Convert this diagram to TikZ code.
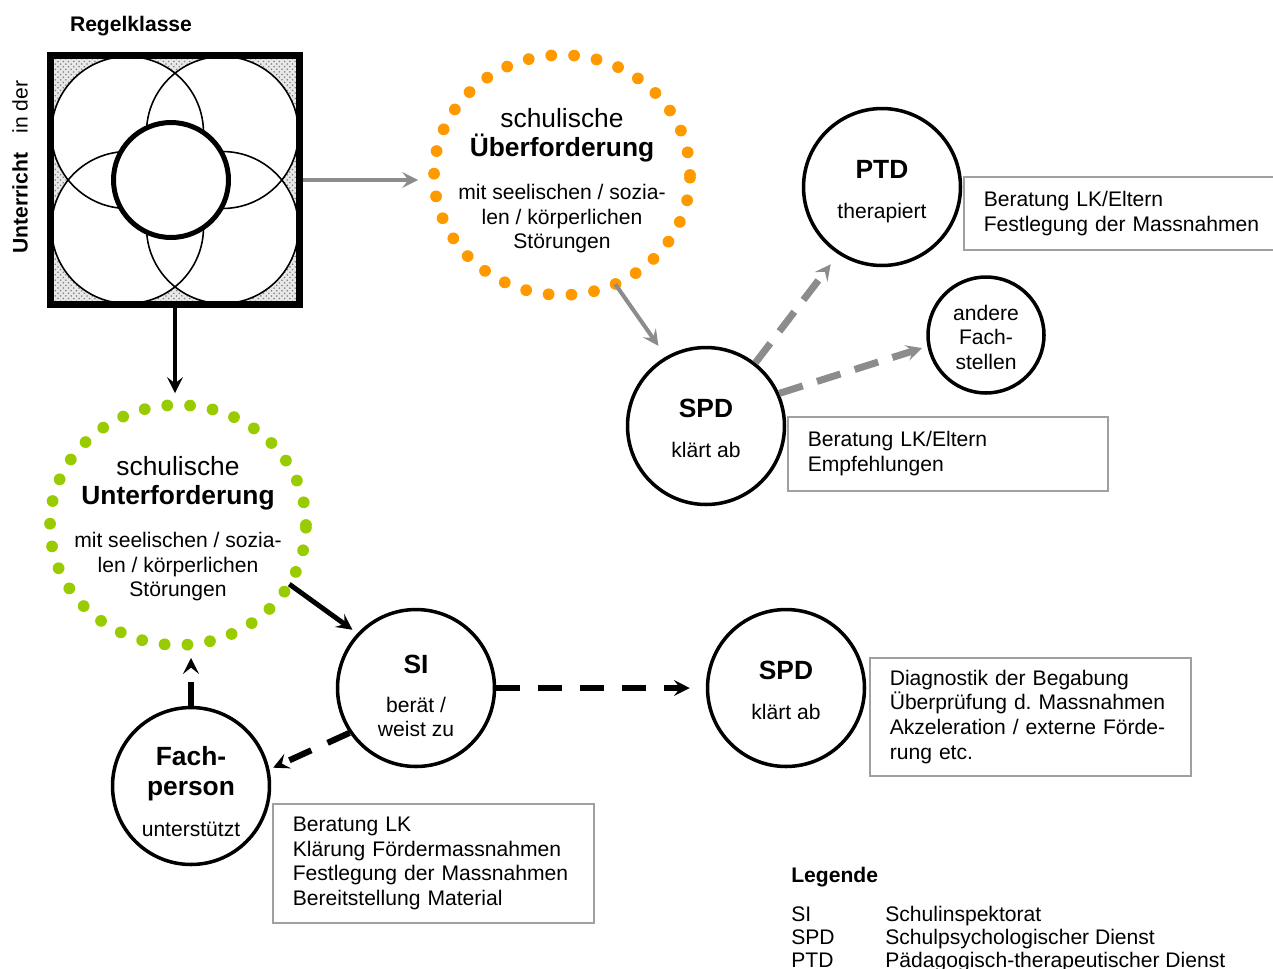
\documentclass[tikz,border=0pt]{standalone}
\usepackage{fontspec}
\setmainfont{Liberation Sans}
\usetikzlibrary{arrows.meta,shapes.geometric,patterns}
\frenchspacing
\definecolor{ringorange}{RGB}{255,153,0}
\definecolor{ringgreen}{RGB}{153,204,0}
\definecolor{arrgray}{RGB}{140,140,140}
\definecolor{boxgray}{RGB}{160,160,160}
\newcommand{\txt}{\fontsize{12}{13.95}\selectfont}
\newcommand{\ttl}{\fontsize{15}{18}\selectfont}
\tikzset{
  stelle/.style={circle,draw,line width=2pt,fill=white,minimum size=3.14cm,inner sep=0pt},
  ring/.style={ellipse,draw=#1,line width=6.7pt,line cap=round,dash pattern=on 0pt off 13pt,
    minimum width=5.12cm,minimum height=4.8cm,inner sep=0pt,outer sep=0pt},
  infobox/.style={draw=boxgray,line width=0.9pt,anchor=north west,align=left,
    inner xsep=0.4cm,inner ysep=0pt,font=\txt},
  rtitle/.style={anchor=base,font=\ttl\bfseries},
  rline/.style={anchor=base,font=\txt},
  rsub/.style={font=\txt,align=center,inner sep=0pt},
  legline/.style={anchor=base west,font=\txt,inner sep=0pt},
  arrowend/.style={-{Stealth[length=9pt,width=9pt,inset=3.5pt]}},
  grayarr/.style={arrowend,color=arrgray,line width=2.3pt},
  graydash/.style={arrowend,color=arrgray,line width=4pt,dash pattern=on 14pt off 8.5pt},
  blackarr/.style={arrowend,line width=2.3pt},
  blackdash/.style={arrowend,line width=3.5pt,dash pattern=on 13.7pt off 10.2pt}
}
\begin{document}
\begin{tikzpicture}[x=0.02cm,y=-0.02cm]
\useasboundingbox (0,0) rectangle (1273,968);
\node[anchor=base,font=\txt\bfseries] (regel) at (131,31) {Regelklasse};
\node[rotate=90,font=\txt] (unterricht) at (20,167) {\textbf{Unterricht}\hspace{11pt}in der};
\node[minimum size=4.98cm,inner sep=0pt,outer sep=0pt,preaction={fill=gray!18},pattern=crosshatch dots,pattern color=gray] (klasse) at (175,180) {};
\foreach \x/\y in {127.5/132.5,222.5/132.5,127.5/227.5,222.5/227.5}
\fill[shift={(\x,\y)},white] (0,0) circle[radius=1.52cm];
\foreach \x/\y in {127.5/132.5,222.5/132.5,127.5/227.5,222.5/227.5}
\draw[shift={(\x,\y)},line width=0.9pt] (0,0) circle[radius=1.52cm];
\filldraw[fill=white,line width=2.85pt] (171,180) circle[radius=1.15cm];
\draw[line width=4pt] (klasse.north west) rectangle (klasse.south east);

\node[ring=ringorange] (over) at (562,175) {};
\node[anchor=base,font=\ttl] (overA) at (562,127) {schulische};
\node[rtitle] (overB) at (562,156) {Überforderung};
\node[rsub] (overC) at (562,219) {mit seelischen / sozia-\\len / körperlichen\\Störungen};

\node[ring=ringgreen] (under) at (178,525) {};
\node[anchor=base,font=\ttl] (underA) at (178,475) {schulische};
\node[rtitle] (underB) at (178,504) {Unterforderung};
\node[rsub] (underC) at (178,567) {mit seelischen / sozia-\\len / körperlichen\\Störungen};

\node[stelle] (ptd) at (882,187) {};
\node[rtitle] (ptdA) at (882,178) {PTD};
\node[rline] (ptdB) at (882,218) {therapiert};
\node[infobox,minimum height=1.46cm,text width=5.94cm] (ptdbox) at (963,176) {Beratung LK/Eltern\\Festlegung der Massnahmen};

\node[stelle] (spd1) at (706,426) {};
\node[rtitle] (spd1A) at (706,417) {SPD};
\node[rline] (spd1B) at (706,457) {klärt ab};
\node[infobox,minimum height=1.48cm,text width=5.6cm] (spd1box) at (787,416) {Beratung LK/Eltern\\Empfehlungen};

\node[stelle,minimum size=2.32cm] (andere) at (986,335) {};
\node[rsub] (andereA) at (986,337) {andere\\Fach-\\stellen};

\node[stelle] (si) at (416,688) {};
\node[rtitle] (siA) at (416,673) {SI};
\node[rsub] (siB) at (416,717) {berät /\\weist zu};

\node[stelle] (spd2) at (786,688) {};
\node[rtitle] (spd2A) at (786,679) {SPD};
\node[rline] (spd2B) at (786,719) {klärt ab};
\node[infobox,minimum height=2.36cm,text width=5.62cm] (spd2box) at (869,657) {Diagnostik der Begabung\\Überprüfung d. Massnahmen\\Akzeleration / externe Förde-\\rung etc.};

\node[stelle] (fach) at (191,786) {};
\node[rtitle] (fachA) at (191,765) {Fach-};
\node[rtitle] (fachB) at (191,795) {person};
\node[rline] (fachC) at (191,836) {unterstützt};
\node[infobox,minimum height=2.38cm,text width=5.62cm] (fachbox) at (272,803) {Beratung LK\\Klärung Fördermassnahmen\\Festlegung der Massnahmen\\Bereitstellung Material};

\node[legline,font=\txt\bfseries] (legende) at (791,882) {Legende};
\foreach \k/\v/\y in {SI/Schulinspektorat/921,SPD/Schulpsychologischer Dienst/944,PTD/Pädagogisch-therapeutischer Dienst/967}{
\node[legline] (key\k) at (791,\y) {\k};
\node[legline] (val\k) at (885,\y) {\v};
}

\draw[grayarr,shorten <=0.08cm,shorten >=0.32cm] (klasse.east) -- (klasse.east -| over.west);
\draw[grayarr,shorten >=0.26cm] (over.-64) -- (spd1.120);
\draw[graydash,shorten >=0.25cm] (spd1.52) -- (ptd.-123);
\draw[graydash,shorten >=0.11cm] (spd1.24) -- (andere.191);
\draw[blackarr,shorten <=0.07cm,shorten >=0.24cm] (klasse.south) -- (klasse.south |- under.north);
\draw[blackarr,line width=2.8pt,shorten >=0.12cm] (under.-28) -- (si.137);
\draw[blackdash,shorten >=0.32cm] (si.east) -- (spd2.west);
\draw[blackdash,shorten >=0.08cm] (si.214) -- (fach.12);
\draw[blackdash,shorten >=0.26cm] (fach.north) -- (fach.north |- under.south);
\end{tikzpicture}
\end{document}
